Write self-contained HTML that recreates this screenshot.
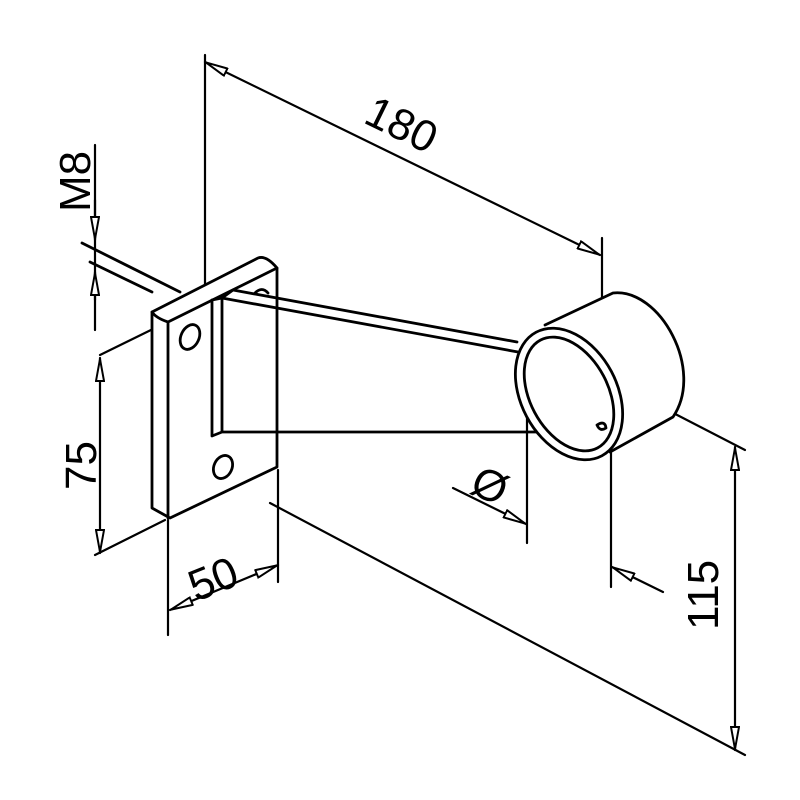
<!DOCTYPE html>
<html><head><style>body{margin:0;background:#fff}svg{display:block}</style></head>
<body>
<svg width="800" height="800" viewBox="0 0 800 800" xmlns="http://www.w3.org/2000/svg">
<defs>
<marker id="a" viewBox="0 0 24 10" refX="24" refY="5" markerWidth="24" markerHeight="10" markerUnits="userSpaceOnUse" orient="auto-start-reverse">
<path d="M1,1 L23,5 L1,9 Z" fill="#fff" stroke="#000" stroke-width="2"/></marker>
</defs>
<g fill="none" stroke="#000" stroke-width="2.8" stroke-linejoin="round" stroke-linecap="round">
<!-- extension lines -->
<line x1="205" y1="55" x2="205" y2="290" stroke-width="2.2"/>
<line x1="602" y1="238" x2="602" y2="312" stroke-width="2.2"/>
<line x1="95" y1="145" x2="95" y2="330" stroke-width="2.2"/>
<line x1="100" y1="355" x2="155" y2="328" stroke-width="2.2"/>
<line x1="95" y1="555" x2="165" y2="520" stroke-width="2.2"/>
<line x1="168" y1="520" x2="168" y2="635" stroke-width="2.2"/>
<line x1="278" y1="470" x2="278" y2="582" stroke-width="2.2"/>
<line x1="270" y1="503" x2="745" y2="755" stroke-width="2.2"/>
<line x1="652" y1="402" x2="745" y2="450" stroke-width="2.2"/>
<line x1="527" y1="373" x2="527" y2="543" stroke-width="2.2"/>
<line x1="611" y1="433" x2="611" y2="587" stroke-width="2.2"/>
<!-- bolt lines -->
<line x1="82" y1="243" x2="180" y2="292"/>
<line x1="90" y1="262" x2="152" y2="292"/>
<!-- dimension lines -->
<line x1="205" y1="62" x2="600" y2="255" stroke-width="2.2" marker-start="url(#a)" marker-end="url(#a)"/>
<line x1="95" y1="200" x2="95" y2="240" stroke-width="2.2" marker-end="url(#a)"/>
<line x1="95" y1="300" x2="95" y2="272" stroke-width="2.2" marker-end="url(#a)"/>
<line x1="100" y1="358" x2="100" y2="553" stroke-width="2.2" marker-start="url(#a)" marker-end="url(#a)"/>
<line x1="170" y1="610" x2="278" y2="565" stroke-width="2.2" marker-start="url(#a)" marker-end="url(#a)"/>
<line x1="735" y1="447" x2="735" y2="750" stroke-width="2.2" marker-start="url(#a)" marker-end="url(#a)"/>
<line x1="453" y1="488" x2="526" y2="524" stroke-width="2.2" marker-end="url(#a)"/>
<line x1="663" y1="592" x2="612" y2="567" stroke-width="2.2" marker-end="url(#a)"/>
<!-- plate -->
<path d="M152,312 L258,258 Q266,255 277,268 L277,467 L170,518 L152,508 Z" fill="#fff"/>
<path d="M152,312 Q156,318 168,322 L277,268 M168,322 L168,518"/>
<ellipse cx="190" cy="337" rx="9" ry="13" transform="rotate(25 190 337)"/>
<ellipse cx="223" cy="467" rx="9" ry="12" transform="rotate(25 223 467)"/>
<path d="M255,293 Q262,286 268,293"/>
<!-- arm -->
<path d="M222,298 L518,352 M233,290 L517,342 M222,298 L222,432 L537,432 M212,300 L212,436 L222,432 M212,300 L222,298 L233,290"/>
<!-- ring back -->
<path d="M545,325 L613,293 C660,288 705,370 673,417 L610,452" fill="#fff"/>
<!-- ring front -->
<ellipse cx="569" cy="394" rx="48" ry="70" transform="rotate(-28 569 394)" fill="#fff"/>
<ellipse cx="569" cy="394" rx="39" ry="61" transform="rotate(-28 569 394)"/>
<path d="M597,425 Q605,420 606,428 Q600,432 597,425"/>
</g>
<g font-family="Liberation Sans, sans-serif" font-size="44" fill="#000">
<text x="0" y="0" transform="translate(362,122) rotate(26)">180</text>
<text x="0" y="0" transform="translate(90,212) rotate(-90)">M8</text>
<text x="0" y="0" transform="translate(96,490) rotate(-90)">75</text>
<text x="0" y="0" transform="translate(196,602) rotate(-22)">50</text>
<text x="0" y="0" transform="translate(718,630) rotate(-90)">115</text>
<text x="0" y="0" transform="translate(468,492) rotate(25)">Ø</text>
</g>
</svg>
</body></html>
